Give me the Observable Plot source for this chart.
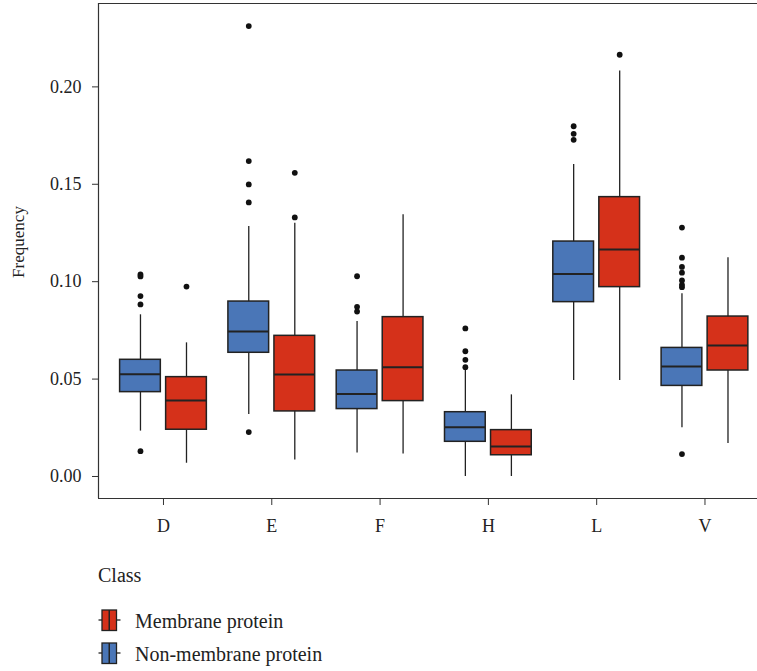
<!DOCTYPE html>
<html>
<head>
<meta charset="utf-8">
<script src="https://cdn.jsdelivr.net/npm/d3@7"></script>
<script src="https://cdn.jsdelivr.net/npm/@observablehq/plot@0.6"></script>
<style>
  html, body { margin: 0; padding: 0; background: #fff; }
  #wrap { position: relative; width: 757px; height: 671px; overflow: hidden; }
  #legend { position: absolute; left: 0; top: 545px; }
</style>
</head>
<body>
<div id="wrap"><div id="chart"></div><svg id="legend" width="757" height="126"></svg></div>
<script>
// ---- data ----
const categories = ["D", "E", "F", "H", "L", "V"];
const classes = ["Non-membrane protein", "Membrane protein"];
const yTicks = [0, 0.05, 0.10, 0.15, 0.20];

const nonLo  = [0.0233, 0.0318, 0.0120, 0.0000, 0.0493, 0.0250];
const nonQ1  = [0.0433, 0.0635, 0.0346, 0.0178, 0.0895, 0.0465];
const nonMed = [0.0525, 0.0744, 0.0423, 0.0253, 0.1039, 0.0565];
const nonQ3  = [0.0599, 0.0898, 0.0544, 0.0330, 0.1206, 0.0660];
const nonHi  = [0.0830, 0.1283, 0.0796, 0.0544, 0.1602, 0.0938];
const nonOut = [
  [0.1037, 0.1027, 0.0926, 0.0883, 0.0130],
  [0.2312, 0.1619, 0.1499, 0.1407, 0.0228],
  [0.1028, 0.0871, 0.0847],
  [0.0760, 0.0643, 0.0599, 0.0561],
  [0.1798, 0.1759, 0.1728],
  [0.1278, 0.1123, 0.1076, 0.1046, 0.1006, 0.0984, 0.0972, 0.0115]
];

const memLo  = [0.0068, 0.0085, 0.0116, 0.0000, 0.0493, 0.0169];
const memQ1  = [0.0240, 0.0334, 0.0387, 0.0109, 0.0972, 0.0544];
const memMed = [0.0390, 0.0524, 0.0561, 0.0154, 0.1165, 0.0672];
const memQ3  = [0.0510, 0.0722, 0.0818, 0.0238, 0.1434, 0.0821];
const memHi  = [0.0686, 0.1300, 0.1343, 0.0419, 0.2081, 0.1123];
const memOut = [[0.0975], [0.1559, 0.1330], [], [], [0.2165], []];

// ---- styling / layout ----
const colors = {"Non-membrane protein": "#4a76b7", "Membrane protein": "#d5311a"};
const offsets = {"Non-membrane protein": -0.2125, "Membrane protein": 0.2125};
const halfW = 0.188;
const font = "'Liberation Serif', 'Times New Roman', serif";
const xDomain = [-0.6, 5.485];
const yDomain = [-0.0113, 0.2428];

// ---- build tables ----
const series = {
  "Non-membrane protein": {lo: nonLo, q1: nonQ1, med: nonMed, q3: nonQ3, hi: nonHi, out: nonOut},
  "Membrane protein": {lo: memLo, q1: memQ1, med: memMed, q3: memQ3, hi: memHi, out: memOut}
};
const boxes = [];
const outliers = [];
categories.forEach((cat, i) => {
  classes.forEach(cls => {
    const s = series[cls];
    const x = i + offsets[cls];
    boxes.push({cat, cls, x, x1: x - halfW, x2: x + halfW,
      lo: s.lo[i], q1: s.q1[i], med: s.med[i], q3: s.q3[i], hi: s.hi[i]});
    s.out[i].forEach(v => outliers.push({cat, cls, x, v}));
  });
});

const chart = Plot.plot({
  width: 757,
  height: 545,
  marginTop: 3,
  marginBottom: 47,
  marginLeft: 98,
  marginRight: 0,
  style: {fontFamily: font, fontSize: "18px", color: "#222", background: "#fff"},
  x: {type: "linear", domain: xDomain},
  y: {domain: yDomain},
  marks: [
    Plot.ruleY(yDomain, {stroke: "#333", strokeWidth: 1.2}),
    Plot.ruleX([xDomain[0]], {stroke: "#333", strokeWidth: 1.2}),
    Plot.axisY({ticks: yTicks, tickFormat: d => d.toFixed(2), tickSize: 6, tickPadding: 11,
      label: null, stroke: "#333", fill: "#222", fontSize: 18}),
    Plot.axisX({ticks: d3.range(categories.length), tickFormat: i => categories[i],
      tickSize: 7, tickPadding: 14, label: null, stroke: "#333", fill: "#222", fontSize: 18}),
    Plot.text(["Frequency"], {frameAnchor: "left", textAnchor: "middle", lineAnchor: "middle",
      dx: -80, dy: -9, rotate: -90, fontSize: 17, fill: "#222"}),
    Plot.ruleX(boxes, {x: "x", y1: "lo", y2: "hi", stroke: "#222", strokeWidth: 1.3}),
    Plot.rect(boxes, {x1: "x1", x2: "x2", y1: "q1", y2: "q3",
      fill: d => colors[d.cls], stroke: "#222", strokeWidth: 1.5}),
    Plot.ruleY(boxes, {x1: "x1", x2: "x2", y: "med", stroke: "#222", strokeWidth: 2}),
    Plot.dot(outliers, {x: "x", y: "v", r: 2.9, fill: "#111", stroke: "none"})
  ]
});
document.getElementById("chart").appendChild(chart);

// ---- legend ----
const lg = d3.select("#legend");
lg.append("text").attr("x", 98).attr("y", 37).attr("font-family", font)
  .attr("font-size", 20).attr("fill", "#222").text("Class");
const legendOrder = ["Membrane protein", "Non-membrane protein"];
legendOrder.forEach((cls, k) => {
  const top = 65 + k * 33;
  const g = lg.append("g");
  g.append("line").attr("x1", 98.5).attr("x2", 120.5).attr("y1", top + 10).attr("y2", top + 10)
    .attr("stroke", "#222").attr("stroke-width", 1.3);
  g.append("rect").attr("x", 102).attr("y", top).attr("width", 14.5).attr("height", 20.5)
    .attr("fill", colors[cls]).attr("stroke", "#222").attr("stroke-width", 1.3);
  g.append("line").attr("x1", 109.25).attr("x2", 109.25).attr("y1", top).attr("y2", top + 20.5)
    .attr("stroke", "#222").attr("stroke-width", 1.5);
  lg.append("text").attr("x", 135).attr("y", top + 18).attr("font-family", font)
    .attr("font-size", 20).attr("fill", "#222").text(cls);
});
</script>
</body>
</html>
